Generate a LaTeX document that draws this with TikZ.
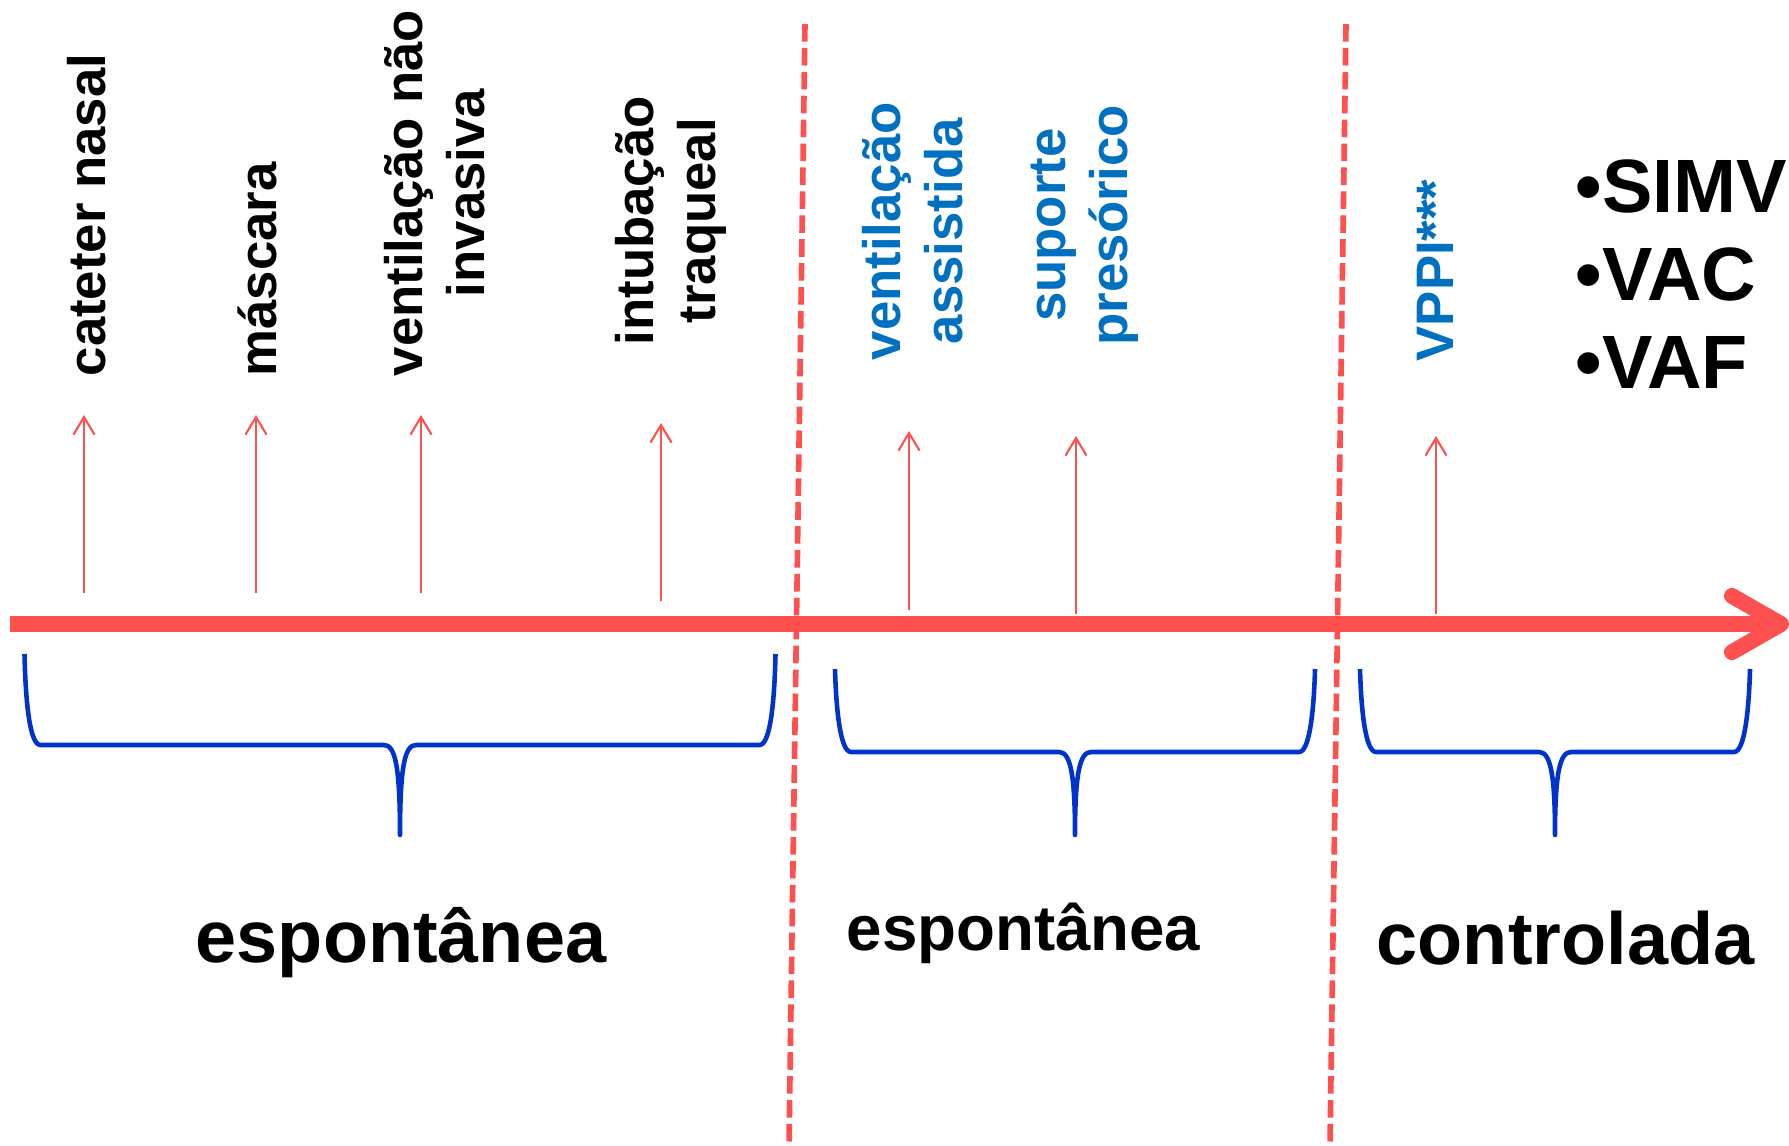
\documentclass[tikz,border=0pt]{standalone}
\usepackage{fontspec}
\setmainfont{Liberation Sans}
\usetikzlibrary{arrows.meta}

\definecolor{axisred}{RGB}{255,80,80}
\definecolor{bracketblue}{RGB}{0,51,204}
\definecolor{modeblue}{RGB}{0,112,192}

% curly bracket under the axis: left, right, middle, top, bar, tip
\newcommand{\modebrace}[6]{%
	\draw[bracket] (#1,#4) .. controls (#1+1,#5-45) and (#1+5,#5) .. (#1+16,#5)
		-- (#3-16,#5) .. controls (#3-5,#5) and (#3,#5+20) .. (#3,#6)
		.. controls (#3,#5+20) and (#3+5,#5) .. (#3+16,#5)
		-- (#2-16,#5) .. controls (#2-5,#5) and (#2-1,#5-45) .. (#2,#4);
}

\begin{document}
\begin{tikzpicture}[x=0.01cm,y=-0.01cm]
\tikzstyle{side label}=[rotate=90,anchor=west,align=center,inner sep=0,font=\fontsize{15}{17.6}\selectfont\bfseries]
\tikzstyle{mode label}=[anchor=base,inner sep=0]
\tikzset{
	blue label/.style={side label,text=modeblue},
	list item/.style={anchor=base west,inner sep=0,font=\fontsize{21.5}{25}\selectfont\bfseries},
	timeline/.style={axisred,line width=4.5pt,-{Straight Barb[length=14pt,width=16pt,round]}},
	pointer/.style={axisred,line width=0.6pt,-{Straight Barb[length=5pt,width=6pt]}},
	separator/.style={axisred,line width=1.6pt,dash pattern=on 5pt off 1.8pt},
	bracket/.style={bracketblue,line width=1.3pt,line join=round}
}
\useasboundingbox (0,0) rectangle (1789,1145);

% the axis
\coordinate (t0) at (10,624);
\coordinate (tend) at (1789,624);
\draw[timeline] (t0) -- (tend);

% phase separators
\coordinate (sep1top) at (805,24);
\coordinate (sep1bot) at (789,1145);
\coordinate (sep2top) at (1346,24);
\coordinate (sep2bot) at (1330,1145);
\draw[separator] (sep1top) -- (sep1bot);
\draw[separator] (sep2top) -- (sep2bot);

% small arrows up from the axis
\foreach \n/\x/\lo/\hi in {1/84/593/415, 2/256/593/415, 3/421/593/415, 4/661/601/423,
		5/909/610/431, 6/1076/614/436, 7/1436/614/436}{
	\coordinate (foot\n) at (\x,\lo);
	\coordinate (head\n) at (\x,\hi);
	\draw[pointer] (foot\n) -- (head\n);
}

\node[side label] (cateter) at (86.5,377) {cateter nasal};
\node[side label] (mascara) at (257,377) {máscara};
\node[side label] (vni) at (435,377) {ventilação não\\invasiva};
\node[side label] (intubacao) at (671,346) {intubação\\traqueal};
\node[blue label] (assistida) at (913,361) {ventilação\\assistida};
\node[blue label] (suporte) at (1085,346) {suporte\\presórico};
\node[blue label] (vppi) at (1435,362) {VPPI***};

\node[list item] (simv) at (1575,212) {•SIMV};
\node[list item] (vac) at (1575,300) {•VAC};
\node[list item] (vaf) at (1575,388) {•VAF};

% brackets for each phase
\modebrace{24.5}{775.5}{400}{654}{745}{835}
\modebrace{835}{1315}{1075}{669}{752}{835}
\modebrace{1360}{1750}{1555}{669}{752}{835}

\node[mode label,font=\fontsize{21}{25}\selectfont\bfseries] (esp1) at (401,962) {espontânea};
\node[mode label,font=\fontsize{18.1}{22}\selectfont\bfseries] (esp2) at (1023.5,950) {espontânea};
\node[mode label,font=\fontsize{21}{25}\selectfont\bfseries] (controlada) at (1565.5,964) {controlada};
\end{tikzpicture}
\end{document}
